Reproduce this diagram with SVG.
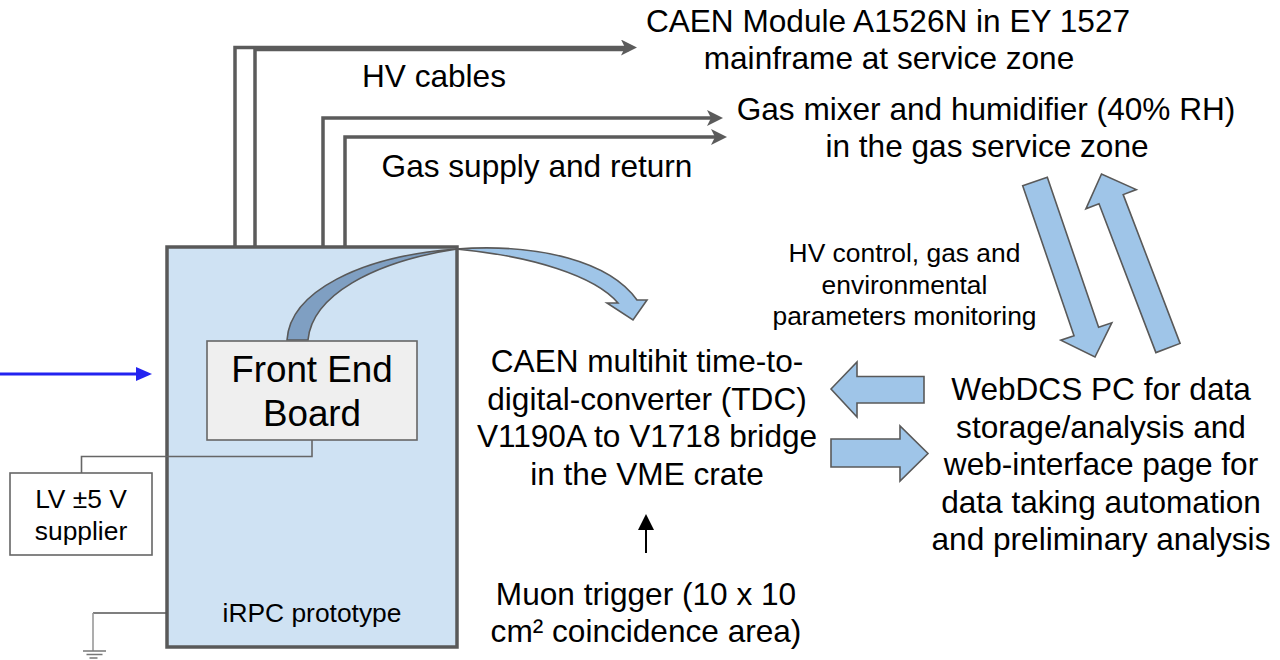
<svg xmlns="http://www.w3.org/2000/svg" width="1280" height="660" viewBox="0 0 1280 660">
<style>
text{font-family:"Liberation Sans",Arial,sans-serif;fill:#000;text-anchor:middle}
.big{font-size:31.6px}
.sm{font-size:26.4px}
.feb{font-size:36.8px}
.cable{fill:none;stroke:#5b5b5b;stroke-width:3.5}
.wire{fill:none;stroke:#666;stroke-width:1.6}
.block{fill:#9fc5e8;stroke:#595959;stroke-width:1.6;stroke-linejoin:miter}
</style>
<defs>
<marker id="ga" markerUnits="userSpaceOnUse" viewBox="0 0 16 16" refX="8" refY="8" markerWidth="16" markerHeight="16" orient="auto"><path d="M0,0 L16,8 L0,16 L4,8 Z" fill="#5b5b5b"/></marker>
<marker id="ba" markerUnits="userSpaceOnUse" viewBox="0 0 16 16" refX="8" refY="8" markerWidth="16" markerHeight="16" orient="auto"><path d="M0,1 L16,8 L0,15 Z" fill="#2323f0"/></marker>
<marker id="ka" markerUnits="userSpaceOnUse" viewBox="0 0 16 16" refX="8" refY="8" markerWidth="16" markerHeight="16" orient="auto"><path d="M0,0 L16,8 L0,16 Z" fill="#000"/></marker>
</defs>

<g id="irpc">
<rect x="167" y="247" width="290" height="400" fill="#cfe2f3" stroke="#595959" stroke-width="3.5"/>
<text class="sm" x="312" y="622">iRPC prototype</text>
</g>

<g id="lv-supplier">
<rect x="10" y="473" width="142" height="82" fill="#fff" stroke="#666" stroke-width="1.6"/>
<text class="sm" x="81" y="508">LV ±5 V</text>
<text class="sm" x="81" y="540">supplier</text>
</g>

<g id="connectors">
<path class="cable" d="M235,247 V47.5 H629" marker-end="url(#ga)"/>
<path class="cable" d="M255,247 V49.5 H629"/>
<path class="cable" d="M323,247 V118 H715" marker-end="url(#ga)"/>
<path class="cable" d="M345,247 V137 H719" marker-end="url(#ga)"/>
<path class="wire" d="M312,440 V456.5 H81.5 V473"/>
<path d="M167,613 H93" fill="none" stroke="#555" stroke-width="1.6"/>
<path d="M93,613 V651" fill="none" stroke="#999" stroke-width="1.6"/>
<path d="M83,651 H106 M86.5,654.5 H102.5 M89.5,658 H97.5" fill="none" stroke="#777" stroke-width="1.4"/>
<path d="M0,374 H144" fill="none" stroke="#2323f0" stroke-width="3" marker-end="url(#ba)"/>
<path d="M646,553 V522" fill="none" stroke="#000" stroke-width="2" marker-end="url(#ka)"/>
<path d="M287,340 C290,292 360,256 457,249 C372,262 312,296 308,340 Z" fill="#7f9fc2" stroke="#595959" stroke-width="1.6"/>
<path class="block" d="M456,249 C540,243 610,262 637,300 L647,300 L633,320 L607,303 L618,303 C595,276 532,256 456,249 Z"/>
<polygon class="block" points="831,389 857,362 857,376.5 924,376.5 924,403 857,403 857,417"/>
<polygon class="block" points="831,439 900,439 900,426 928,453.5 900,481 900,467 831,467"/>
<polygon class="block" points="1047.3,177.3 1098.6,327.3 1111.8,322.8 1095,357 1060.8,340.2 1074,335.7 1022.7,185.7"/>
<polygon class="block" points="1180.1,343.4 1123.2,194.6 1136.3,189.6 1101.5,174 1085.9,208.8 1099,203.8 1155.9,352.6"/>
</g>

<g id="front-end-board">
<rect x="207" y="341" width="210" height="99" fill="#efefef" stroke="#666" stroke-width="1.6"/>
<text class="feb" x="312" y="381.5">Front End</text>
<text class="feb" x="312" y="426">Board</text>
</g>

<g id="labels">
<text class="big" x="434" y="87">HV cables</text>
<text class="big" x="537" y="177">Gas supply and return</text>
</g>

<g id="caen-hv">
<text class="big" x="888" y="32">CAEN Module A1526N in EY 1527</text>
<text class="big" x="889" y="69">mainframe at service zone</text>
</g>

<g id="gas-mixer">
<text class="big" x="986" y="120">Gas mixer and humidifier (40% RH)</text>
<text class="big" x="987" y="157">in the gas service zone</text>
</g>

<g id="monitoring-label">
<text class="sm" x="904.5" y="262">HV control, gas and</text>
<text class="sm" x="904.5" y="293.5">environmental</text>
<text class="sm" x="904.5" y="325">parameters monitoring</text>
</g>

<g id="tdc">
<text class="big" x="647" y="372">CAEN multihit time-to-</text>
<text class="big" x="647" y="409.5">digital-converter (TDC)</text>
<text class="big" x="647" y="447">V1190A to V1718 bridge</text>
<text class="big" x="647" y="484.5">in the VME crate</text>
</g>

<g id="webdcs">
<text class="big" x="1101" y="400">WebDCS PC for data</text>
<text class="big" x="1101" y="437.5">storage/analysis and</text>
<text class="big" x="1101" y="475">web-interface page for</text>
<text class="big" x="1101" y="512.5">data taking automation</text>
<text class="big" x="1101" y="550">and preliminary analysis</text>
</g>

<g id="muon-trigger">
<text class="big" x="646" y="605">Muon trigger (10 x 10</text>
<text class="big" x="646" y="642">cm² coincidence area)</text>
</g>
</svg>
